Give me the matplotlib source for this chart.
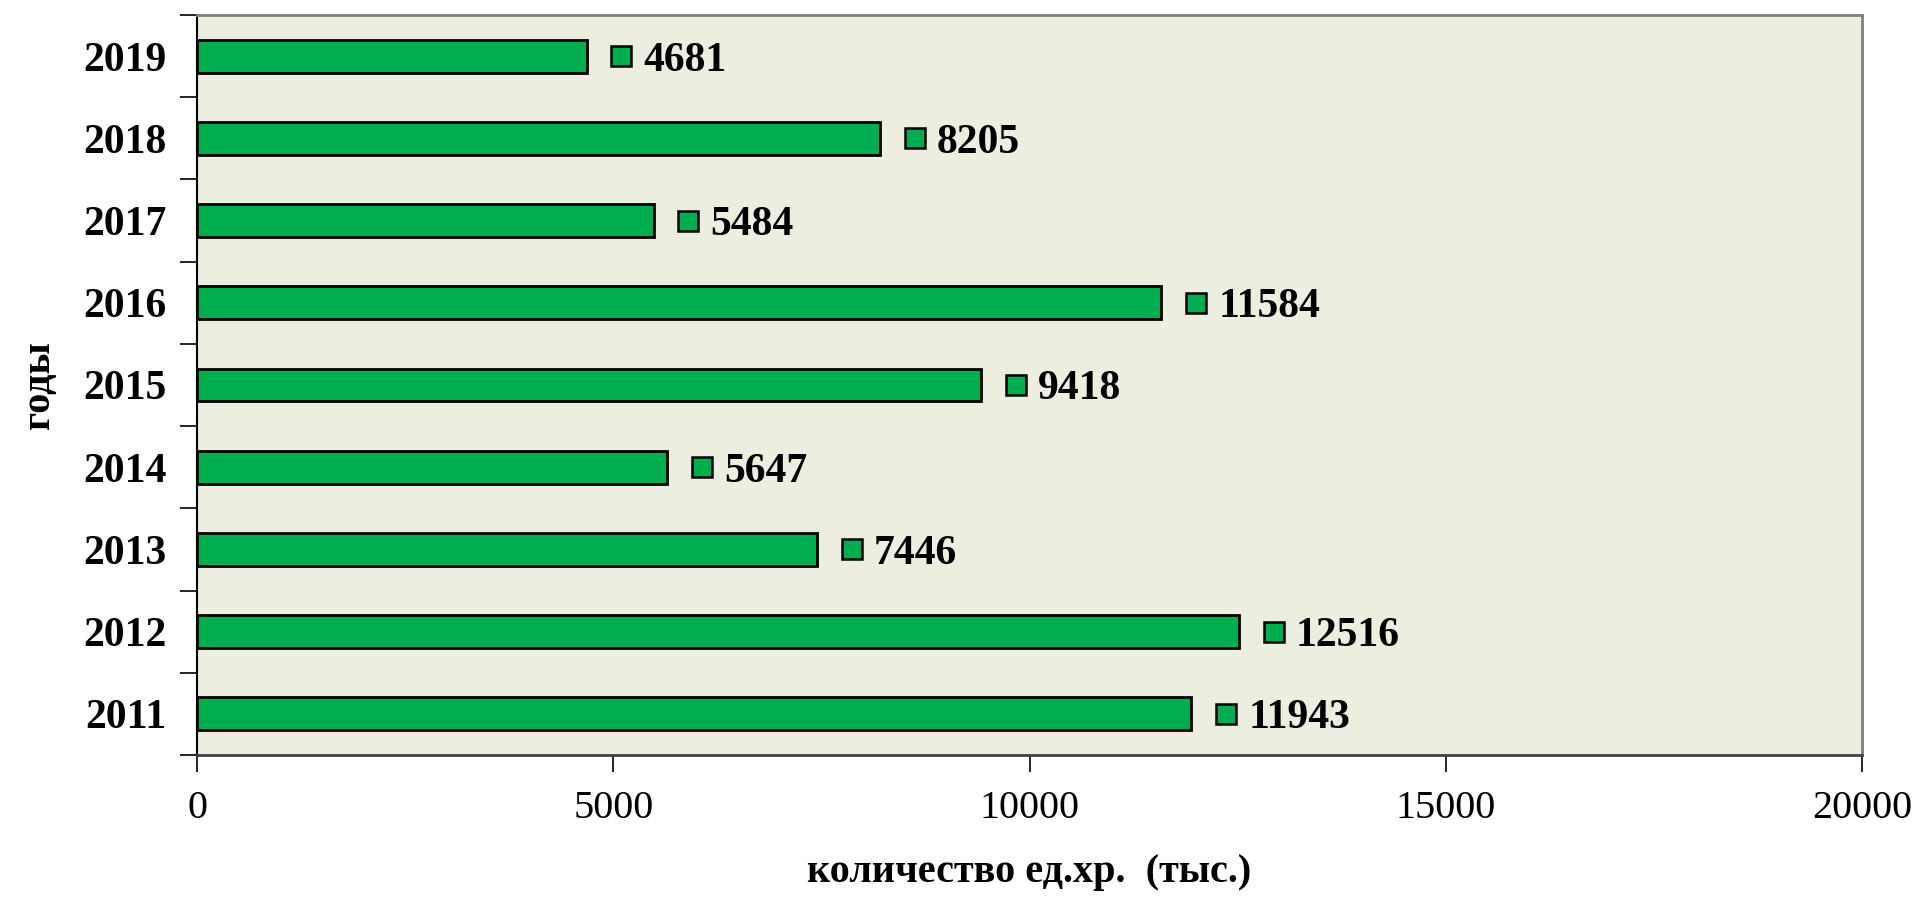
import matplotlib
matplotlib.use("Agg")
import matplotlib.pyplot as plt
import matplotlib.transforms as mtransforms

years = ["2011", "2012", "2013", "2014", "2015", "2016", "2017", "2018", "2019"]
values = [11943, 12516, 7446, 5647, 9418, 11584, 5484, 8205, 4681]
x_ticks = [0, 5000, 10000, 15000, 20000]

plt.rcParams['font.family'] = ['Liberation Serif', 'DejaVu Serif']

fig = plt.figure(figsize=(19.19, 8.99), dpi=100)
ax = fig.add_axes([0.1027, 0.1602, 0.8676, 0.8231])
ax.set_facecolor('#ECEEDF')

ypos = list(range(len(years)))
ax.barh(ypos, values, height=0.4, color='#00AD4F', edgecolor='black', linewidth=2)

# little legend-key squares and value labels to the right of each bar
mark_tr = mtransforms.offset_copy(ax.transData, fig=fig, x=25, y=0, units='points')
text_tr = mtransforms.offset_copy(ax.transData, fig=fig, x=41, y=0, units='points')
ax.plot(values, ypos, 's', ms=15, mfc='#00AD4F', mec='black', mew=1.8, transform=mark_tr, clip_on=False)
for v, y in zip(values, ypos):
    ax.text(v, y, str(v), transform=text_tr, ha='left', va='center_baseline',
            fontsize=30, fontweight='bold')

ax.set_xlim(0, 20000)
ax.set_ylim(-0.5, len(years) - 0.5)
ax.set_xticks(x_ticks)
ax.set_xticklabels([str(t) for t in x_ticks], fontsize=29)
ax.tick_params(axis='x', length=12, width=1.2, pad=13, direction='out')

ax.set_yticks(ypos)
ax.set_yticklabels(years, fontsize=30, fontweight='bold')
ax.set_yticks([i - 0.5 for i in range(len(years) + 1)], minor=True)
ax.tick_params(axis='y', which='major', length=0, pad=22)
ax.tick_params(axis='y', which='minor', length=12, width=1.2, direction='out')

for s in ['top', 'right']:
    ax.spines[s].set_color('#808080')
    ax.spines[s].set_linewidth(2)
ax.spines['left'].set_color('black')
ax.spines['left'].set_linewidth(1.5)
ax.spines['bottom'].set_color('#404040')
ax.spines['bottom'].set_linewidth(2)

ax.set_xlabel("количество ед.хр.  (тыс.)", fontsize=29, fontweight='bold', labelpad=20)
ax.set_ylabel("годы", fontsize=29, fontweight='bold', labelpad=18)

fig.savefig("out.png", dpi=100)
